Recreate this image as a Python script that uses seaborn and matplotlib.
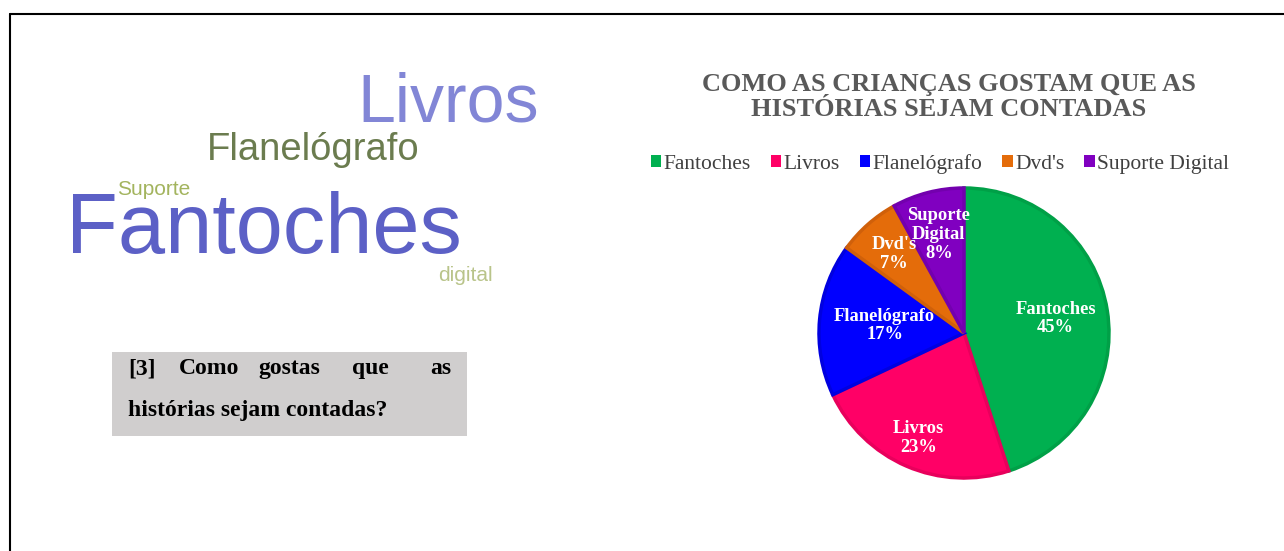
import matplotlib
matplotlib.use("Agg")
import matplotlib.pyplot as plt
import seaborn as sns
from matplotlib.lines import Line2D
import numpy as np

# ---- data ----
categories = ["Fantoches", "Livros", "Flanelógrafo", "Dvd's", "Suporte Digital"]
values = [45, 23, 17, 7, 8]
slice_labels = ["Fantoches", "Livros", "Flanelógrafo", "Dvd's", "Suporte\nDigital"]
colors = ["#00B050", "#FF0066", "#0000FF", "#E46C0A", "#8000C0"]
edge_colors = ["#00A047", "#E8005C", "#0000E0", "#D0600A", "#7300AE"]
label_dist = [0.64, 0.79, 0.55, 0.73, 0.70]

title = "COMO AS CRIANÇAS GOSTAM QUE AS\nHISTÓRIAS SEJAM CONTADAS"
question_l1 = ["[3]", "Como", "gostas", "que", "as"]
question_l2 = "histórias sejam contadas?"

cloud_words = ["Livros", "Flanelógrafo", "Suporte", "Fantoches", "digital"]
cloud_colors = ["#8286D6", "#6B7C4F", "#A3B45E", "#5C60C6", "#B9C48A"]
cloud_sizes = [49, 27.5, 15, 61, 15]
cloud_pos = [(357, 121), (207, 160), (117, 195), (66, 253), (438, 281)]

sns.set_theme(style="white")
plt.rcParams["font.family"] = ["Liberation Serif", "DejaVu Serif"]

W, H = 1284, 551
fig = plt.figure(figsize=(W / 100, H / 100), dpi=100)
fig.patch.set_facecolor("white")

def fx(x):
    return x / W

def fy(y):
    return 1 - y / H

# border lines (top & left)
fig.add_artist(Line2D([fx(10), 1.0], [fy(14), fy(14)], color="black", lw=1.5))
fig.add_artist(Line2D([fx(10), fx(10)], [fy(14), 0.0], color="black", lw=1.5))

# ---- word cloud ----
for w, c, s, (x, y) in zip(cloud_words, cloud_colors, cloud_sizes, cloud_pos):
    fig.text(fx(x), fy(y), w, color=c, fontsize=s, family=["Liberation Sans", "DejaVu Sans"],
             ha="left", va="baseline", zorder=1 if w == "Suporte" else 2)

# ---- question box ----
box_ax = fig.add_axes([fx(112), fy(436), fx(467) - fx(112), fy(352) - fy(436)])
box_ax.set_facecolor("#D0CECE")
box_ax.set_xticks([]); box_ax.set_yticks([])
for sp in box_ax.spines.values():
    sp.set_visible(False)
xs = np.linspace(0.045, 0.955, len(question_l1))
for i, (w, x) in enumerate(zip(question_l1, xs)):
    ha = "left" if i == 0 else ("right" if i == len(question_l1) - 1 else "center")
    box_ax.text(x, 0.80, w, fontsize=17, fontweight="bold", ha=ha, va="center", color="black")
box_ax.text(0.045, 0.30, question_l2, fontsize=17, fontweight="bold", ha="left", va="center", color="black")

# ---- pie ----
cx, cy, R = 964, 333, 145
ax = fig.add_axes([fx(cx - R), fy(cy + R), 2 * R / W, 2 * R / H])
wedges, _ = ax.pie(values, colors=colors, startangle=90, counterclock=False,
                   wedgeprops=dict(linewidth=2.5))
for wd, ec in zip(wedges, edge_colors):
    wd.set_edgecolor(ec)
ax.set_aspect("equal")
ax.set_xlim(-1, 1); ax.set_ylim(-1, 1)
ax.axis("off")
for wd, lab, v, d in zip(wedges, slice_labels, values, label_dist):
    ang = np.deg2rad((wd.theta1 + wd.theta2) / 2)
    ax.text(d * np.cos(ang), d * np.sin(ang), f"{lab}\n{v}%", color="white",
            fontsize=13.3, fontweight="bold", ha="center", va="center", linespacing=1.15)

fig.text(fx(949), fy(97), title, ha="center", va="center", fontsize=19,
         fontweight="bold", color="#595959", linespacing=1.07)

leg = fig.legend(wedges, categories, loc="center", bbox_to_anchor=(fx(940), fy(164)),
                 ncol=5, frameon=False, fontsize=15.5, handlelength=0.5, handleheight=0.5,
                 handletextpad=0.12, columnspacing=0.9, labelcolor="#404040")
for h in leg.legend_handles:
    h.set_linewidth(0)

fig.savefig("out.png", dpi=100, facecolor="white")
